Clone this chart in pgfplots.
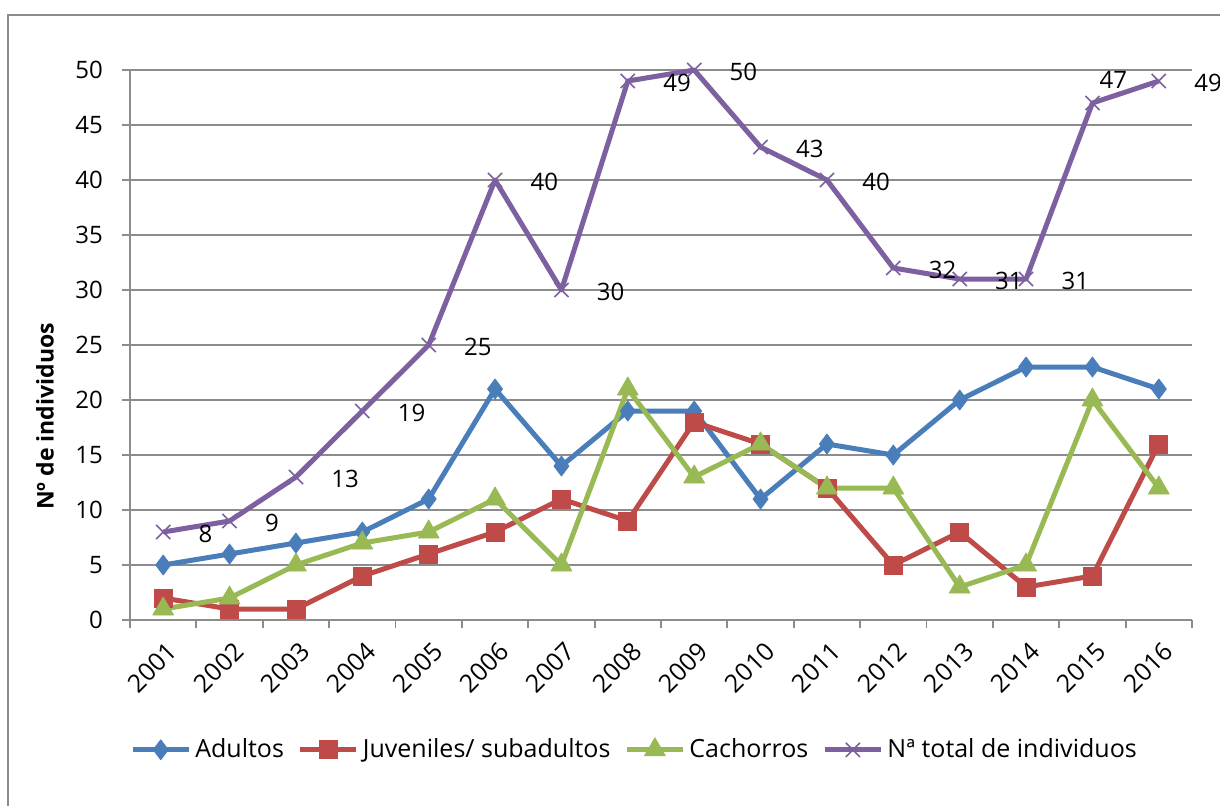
\documentclass[border=0pt]{standalone}
\usepackage{pgfplots}
\pgfplotsset{compat=1.18}
\usepackage{pgfplotstable}
\usepackage{fontspec}
\setmainfont{Open Sans}
\definecolor{cblue}{HTML}{4A7EBB}
\definecolor{cred}{HTML}{BE4B48}
\definecolor{cgreen}{HTML}{98B954}
\definecolor{cpurple}{HTML}{7D60A0}
\definecolor{cgrid}{HTML}{8C8C8C}

\pgfplotstableread{
x y
0 5
1 6
2 7
3 8
4 11
5 21
6 14
7 19
8 19
9 11
10 16
11 15
12 20
13 23
14 23
15 21
}\adultos
\pgfplotstableread{
x y
0 2
1 1
2 1
3 4
4 6
5 8
6 11
7 9
8 18
9 16
10 12
11 5
12 8
13 3
14 4
15 16
}\juveniles
\pgfplotstableread{
x y
0 1
1 2
2 5
3 7
4 8
5 11
6 5
7 21
8 13
9 16
10 12
11 12
12 3
13 5
14 20
15 12
}\cachorros
\pgfplotstableread{
x y lab
0 8 8
1 9 9
2 13 13
3 19 19
4 25 25
5 40 40
6 30 30
7 49 49
8 50 50
9 43 43
10 40 40
11 32 32
12 31 31
13 31 31
14 47 {}
15 49 49
}\total
\pgfplotstableread{
x y lab
14 47 47
}\totalb

\begin{document}
\begin{tikzpicture}
\useasboundingbox (-65pt,-92.5pt) rectangle (545pt,310pt);
\fill[white] (-65pt,-92.5pt) rectangle (545pt,310pt);
\begin{axis}[
  at={(0pt,0pt)}, anchor=south west,
  scale only axis, width=531pt, height=275pt,
  xmin=-0.5, xmax=15.5, ymin=0, ymax=50,
  clip=false,
  ytick={0,5,...,50},
  xtick={0,...,15},
  xticklabels={2001,2002,2003,2004,2005,2006,2007,2008,2009,2010,2011,2012,2013,2014,2015,2016},
  minor xtick={-0.5,0.5,...,15.5},
  major x tick style={draw=none},
  axis lines*=left,
  axis line style={draw=cgrid, line width=0.9pt},
  ymajorgrids,
  grid style={draw=cgrid, line width=0.9pt},
  tick align=outside,
  tick style={draw=cgrid, line width=0.9pt},
  major tick length=4pt, minor tick length=4pt,
  tick label style={font=\fontsize{12}{14}\selectfont},
  /pgf/number format/assume math mode=true,
  xticklabel style={rotate=45, anchor=north east, xshift=0pt, yshift=-2pt, font=\fontsize{12.5}{14}\selectfont},
  yticklabel style={xshift=-6pt},
  ylabel={\bfseries Nº de individuos},
  ylabel style={at={(axis description cs:-0.08,0.37)}, anchor=center, font=\fontsize{11.5}{13}\selectfont},
  legend style={at={(0.476,-0.236)}, anchor=center, draw=none, fill=none,
    font=\fontsize{12.5}{14}\selectfont, legend columns=4,
    /tikz/every even column/.append style={column sep=5pt}},
  legend image code/.code={\draw[mark repeat=2,mark phase=2] plot coordinates {(0pt,0pt)(14pt,0pt)(28pt,0pt)};},
  every axis plot/.append style={line width=2.5pt, line join=round},
]
\addplot[color=cblue, mark=diamond*, mark size=5pt, mark options={solid, line width=0.4pt}] table[x=x,y=y] {\adultos};
\addlegendentry{Adultos}
\addplot[color=cred, mark=square*, mark size=4.5pt, mark options={solid, line width=0.4pt}] table[x=x,y=y] {\juveniles};
\addlegendentry{Juveniles/ subadultos}
\addplot[color=cgreen, mark=triangle*, mark size=6pt, mark options={solid, line width=0.4pt}] table[x=x,y=y] {\cachorros};
\addlegendentry{Cachorros}
\addplot[color=cpurple, mark=x, mark size=5pt, mark options={solid, line width=0.8pt},
  point meta=explicit symbolic,
  nodes near coords,
  nodes near coords style={anchor=west, xshift=14pt, yshift=-1pt, text=black, font=\fontsize{12}{14}\selectfont}
  ] table[x=x,y=y,meta=lab] {\total};
\addlegendentry{Nª total de individuos}
\addplot[draw=none, mark=none, forget plot,
  point meta=explicit symbolic,
  nodes near coords,
  nodes near coords style={anchor=west, xshift=-1pt, yshift=11.5pt, text=black, font=\fontsize{12}{14}\selectfont}
  ] table[x=x,y=y,meta=lab] {\totalb};
\end{axis}
\draw[cgrid, line width=1pt] (-61pt,302.5pt) rectangle (570pt,-110pt);
\end{tikzpicture}
\end{document}
